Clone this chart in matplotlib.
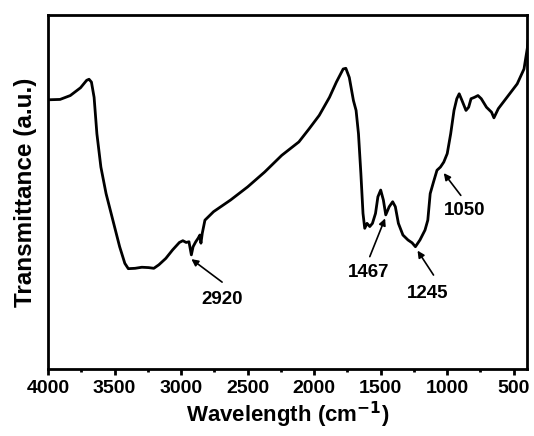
import matplotlib
matplotlib.use("Agg")
import matplotlib.pyplot as plt
from matplotlib.ticker import MultipleLocator

wavenumber = [4000, 3910, 3833, 3756, 3710, 3692, 3674, 3654, 3633, 3603, 3564, 3513, 3462,
              3423, 3397, 3346, 3295, 3244, 3205, 3167, 3115, 3064, 3013, 2987, 2962, 2941,
              2923, 2910, 2890, 2872, 2859, 2851, 2841, 2821, 2756, 2628, 2500, 2372, 2244,
              2115, 2038, 1962, 1885, 1833, 1782, 1762, 1736, 1705, 1685, 1667, 1649, 1633,
              1620, 1603, 1582, 1562, 1539, 1521, 1500, 1480, 1462, 1436, 1410, 1390, 1367,
              1333, 1295, 1264, 1239, 1205, 1167, 1146, 1128, 1103, 1077, 1051, 1026, 1000,
              974, 949, 928, 910, 889, 859, 839, 821, 795, 769, 744, 705, 667, 649, 616, 551,
              474, 423, 397, 392]
transmittance = [76.0, 76.1, 77.2, 79.4, 81.5, 81.8, 81.0, 76.7, 66.4, 57.0, 49.5, 42.0, 34.5,
                 29.8, 28.3, 28.4, 28.7, 28.6, 28.4, 29.4, 31.2, 33.6, 35.7, 36.2, 35.7, 35.9,
                 32.2, 34.5, 35.9, 36.9, 37.8, 35.5, 38.3, 42.0, 44.4, 47.7, 51.4, 55.6, 60.3,
                 64.1, 67.8, 71.6, 76.7, 81.0, 84.7, 84.9, 82.3, 75.8, 73.0, 66.4, 55.2, 43.9,
                 39.7, 41.1, 40.2, 41.1, 43.9, 48.6, 50.5, 47.7, 43.5, 45.8, 47.2, 45.8, 41.1,
                 37.8, 36.4, 35.6, 34.5, 36.4, 39.2, 42.0, 49.5, 52.8, 56.1, 57.0, 58.4, 60.8,
                 66.4, 73.0, 76.3, 77.7, 75.8, 73.0, 73.9, 76.3, 76.7, 77.2, 76.3, 73.9, 72.5,
                 70.9, 73.5, 76.7, 80.5, 84.7, 90.8, 92.7]

peak_labels = ["2920", "1467", "1245", "1050"]
label_pos = [(2692, 19.5), (1590, 27.2), (1146, 21.4), (872, 44.7)]
arrow_tail = [(2692, 24.5), (1582, 31.7), (1103, 26.5), (898, 49.0)]
arrow_head = [(2923, 31.0), (1467, 42.5), (1223, 33.4), (1026, 55.3)]

font = "Liberation Sans"
fig = plt.figure(figsize=(5.34, 4.36), dpi=100)
ax = fig.add_axes([0.09, 0.154, 0.897, 0.812])
ax.plot(wavenumber, transmittance, color="black", lw=2.0, solid_joinstyle="round")
ax.set_xlim(4000, 400)
ax.set_ylim(0, 100)

for lab, lp, tail, head in zip(peak_labels, label_pos, arrow_tail, arrow_head):
    ax.annotate("", xy=head, xytext=tail,
                arrowprops=dict(arrowstyle="-|>", color="black", lw=1.2,
                                mutation_scale=10, shrinkA=0, shrinkB=0))
    ax.text(lp[0], lp[1], lab, ha="center", va="center", fontsize=13.5,
            fontweight="bold", family=font)

for s in ax.spines.values():
    s.set_linewidth(2)
ax.xaxis.set_major_locator(MultipleLocator(500))
ax.xaxis.set_minor_locator(MultipleLocator(250))
ax.tick_params(axis="x", which="major", direction="out", length=4, width=2,
               labelsize=14, pad=4)
ax.tick_params(axis="x", which="minor", direction="out", length=2.5, width=2)
ax.set_yticks([])
for t in ax.get_xticklabels():
    t.set_fontweight("bold")
    t.set_family(font)
ax.set_xlabel("Wavelength (cm$^{\\mathbf{-1}}$)", fontsize=16, fontweight="bold",
              family=font, labelpad=2)
ax.set_ylabel("Transmittance (a.u.)", fontsize=17.5, fontweight="bold",
              family=font, labelpad=8)
fig.savefig("out.png", dpi=100)
